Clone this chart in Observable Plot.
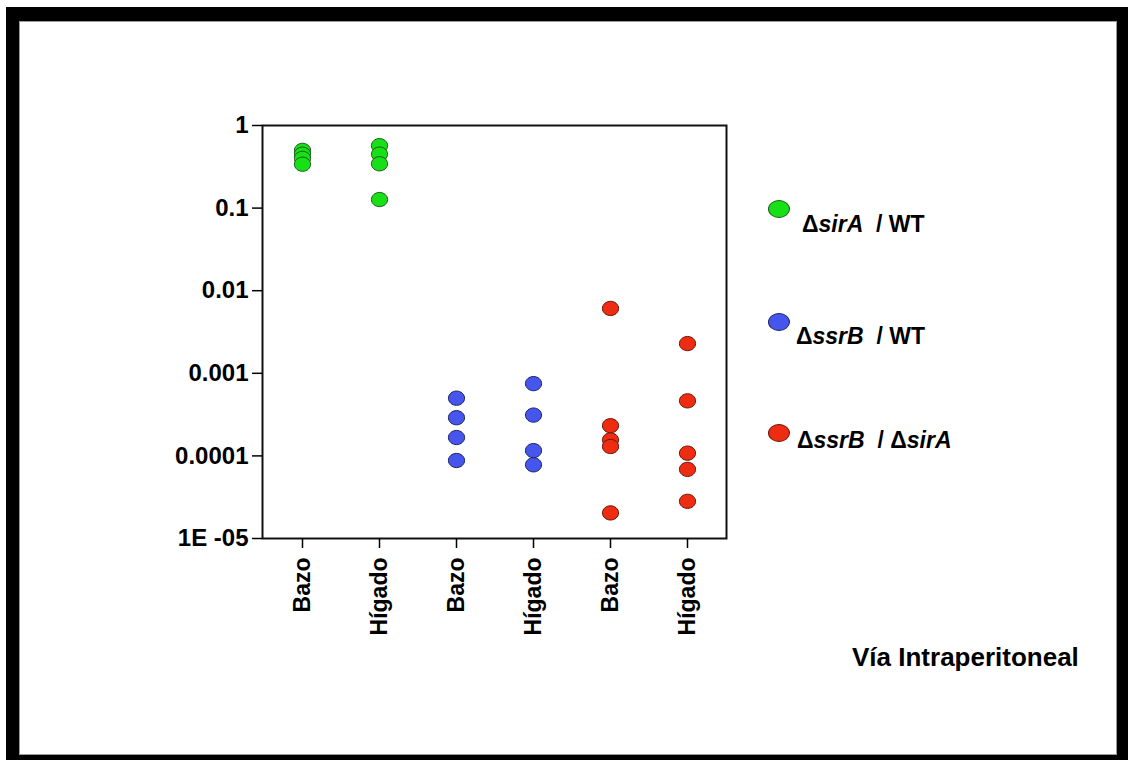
<!DOCTYPE html>
<html>
<head>
<meta charset="utf-8">
<script src="https://cdn.jsdelivr.net/npm/d3@7"></script>
<script src="https://cdn.jsdelivr.net/npm/@observablehq/plot@0.6"></script>
<style>
  html, body { margin: 0; padding: 0; background: #fff; }
  #page { position: relative; width: 1128px; height: 760px; overflow: hidden; background: #fff;
          font-family: "Liberation Sans", Arial, Helvetica, sans-serif; font-weight: bold; color: #000; }
  #frame { position: absolute; left: 6px; top: 7px; width: 1122px; height: 753px; background: #000; }
  #inner { position: absolute; left: 19px; top: 21px; width: 1098px; height: 734px; background: #fff;
           box-sizing: border-box; border: 1px solid #999; }
  #chart { position: absolute; left: 0; top: 0; }
  .legend-item { position: absolute; font-size: 23px; white-space: pre; }
  .legend-dot { position: absolute; width: 22px; height: 18px; border-radius: 50%; box-sizing: border-box; }
  #caption { position: absolute; left: 852px; top: 642px; font-size: 26px; white-space: pre; }
</style>
</head>
<body>
<div id="page">
  <div id="frame"></div>
  <div id="inner"></div>
  <div id="chart"></div>
  <div id="legend"></div>
  <div id="caption">Vía Intraperitoneal</div>
</div>
<script>
// Ratios (log scale), one array per strain comparison and organ
const sirA_bazo   = [0.50, 0.45, 0.40, 0.34];
const sirA_higado = [0.57, 0.45, 0.344, 0.127];
const ssrB_bazo   = [5.0e-4, 2.9e-4, 1.67e-4, 8.8e-5];
const ssrB_higado = [7.5e-4, 3.12e-4, 1.16e-4, 7.8e-5];
const dbl_bazo    = [6.1e-3, 2.32e-4, 1.56e-4, 1.30e-4, 2.04e-5];
const dbl_higado  = [2.29e-3, 4.64e-4, 1.08e-4, 6.87e-5, 2.82e-5];

// Column labels along the x axis
const organLabels = ["Bazo", "Hígado", "Bazo", "Hígado", "Bazo", "Hígado"];
// y ticks and their printed labels
const yTicks = [1, 0.1, 0.01, 0.001, 0.0001, 0.00001];
const yTickLabels = ["1", "0.1", "0.01", "0.001", "0.0001", "1E -05"];

// Series names and colours
const seriesNames = ["sirA/WT", "ssrB/WT", "ssrB/sirA"];
const seriesFill = ["#17e017", "#4656ec", "#ee2c12"];
const seriesStroke = ["#1d5a1d", "#1c2466", "#6a1508"];

const groups = [
  {col: 0, series: 0, values: sirA_bazo},
  {col: 1, series: 0, values: sirA_higado},
  {col: 2, series: 1, values: ssrB_bazo},
  {col: 3, series: 1, values: ssrB_higado},
  {col: 4, series: 2, values: dbl_bazo},
  {col: 5, series: 2, values: dbl_higado}
];
const rows = groups.flatMap(g => g.values.map(v => ({col: g.col, series: seriesNames[g.series], value: v})));

// Slightly wide ellipse symbol for the markers
const ellipse = {
  draw(ctx, size) {
    const r = Math.sqrt(size / Math.PI);
    const rx = r * 1.08, ry = r * 0.95, k = 0.5523;
    ctx.moveTo(rx, 0);
    ctx.bezierCurveTo(rx, k * ry, k * rx, ry, 0, ry);
    ctx.bezierCurveTo(-k * rx, ry, -rx, k * ry, -rx, 0);
    ctx.bezierCurveTo(-rx, -k * ry, -k * rx, -ry, 0, -ry);
    ctx.bezierCurveTo(k * rx, -ry, rx, -k * ry, rx, 0);
    ctx.closePath();
  }
};

const chart = Plot.plot({
  width: 1128,
  height: 760,
  marginLeft: 262,
  marginRight: 402,
  marginTop: 125,
  marginBottom: 222,
  style: {
    background: "transparent",
    fontFamily: "'Liberation Sans', Arial, Helvetica, sans-serif",
    fontWeight: "bold",
    color: "#000",
    overflow: "visible"
  },
  x: {type: "point", domain: d3.range(organLabels.length), padding: 0.5},
  y: {type: "log", domain: [1e-5, 1]},
  color: {domain: seriesNames, range: seriesFill},
  marks: [
    Plot.frame({stroke: "#111", strokeWidth: 2}),
    Plot.axisY({
      ticks: yTicks,
      tickFormat: d => yTickLabels[yTicks.indexOf(d)],
      tickSize: 10,
      tickPadding: 4,
      fontSize: 24,
      strokeWidth: 1.5,
      label: null
    }),
    Plot.axisX({
      tickFormat: i => organLabels[i],
      tickRotate: -90,
      tickSize: 10,
      tickPadding: 9,
      fontSize: 23,
      strokeWidth: 1.5,
      label: null
    }),
    Plot.dot(rows, {
      x: "col",
      y: "value",
      fill: "series",
      stroke: d => seriesStroke[seriesNames.indexOf(d.series)],
      strokeWidth: 1,
      r: 7.5,
      symbol: ellipse
    })
  ]
});
document.getElementById("chart").appendChild(chart);

// Legend to the right of the plot
const legendItems = [
  {dotTop: 200, textLeft: 802, textTop: 211, html: "Δ<i>sirA</i>  / WT"},
  {dotTop: 313, textLeft: 796, textTop: 323, html: "Δ<i>ssrB</i>  / WT"},
  {dotTop: 424, textLeft: 797, textTop: 427, html: "Δ<i>ssrB</i>  / Δ<i>sirA</i>"}
];
const legend = document.getElementById("legend");
legendItems.forEach((item, i) => {
  const dot = document.createElement("div");
  dot.className = "legend-dot";
  dot.style.left = "768px";
  dot.style.top = item.dotTop + "px";
  dot.style.background = seriesFill[i];
  dot.style.border = "1px solid " + seriesStroke[i];
  legend.appendChild(dot);
  const label = document.createElement("div");
  label.className = "legend-item";
  label.style.left = item.textLeft + "px";
  label.style.top = item.textTop + "px";
  label.innerHTML = item.html;
  legend.appendChild(label);
});
</script>
</body>
</html>
